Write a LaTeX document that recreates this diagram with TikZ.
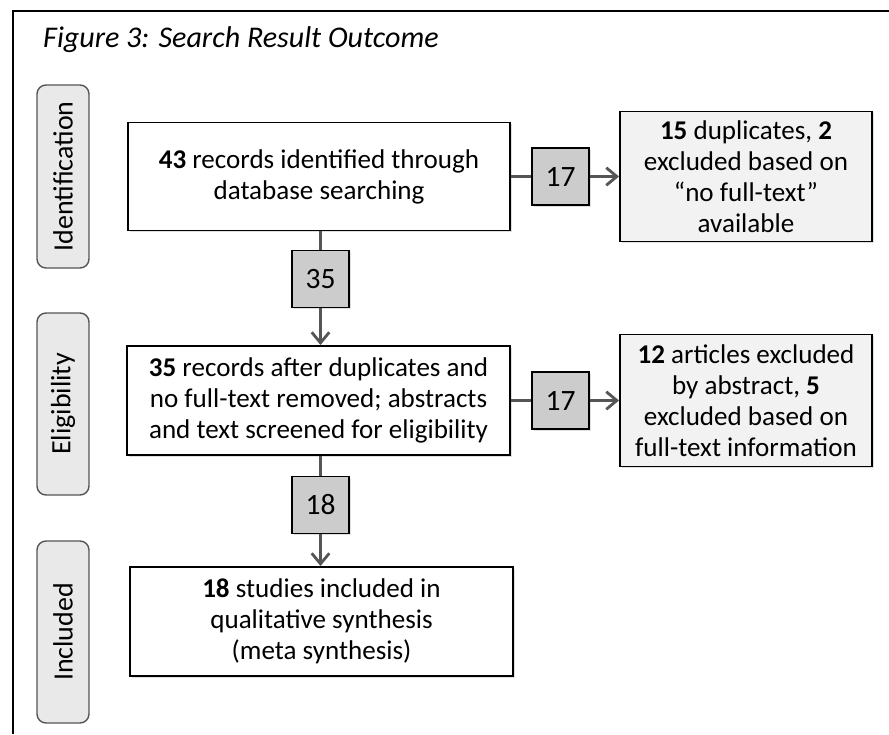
\documentclass[tikz,border=0pt]{standalone}
\usepackage{fontspec}
\setmainfont{Carlito}
\usetikzlibrary{arrows.meta,shadows}
\definecolor{linegray}{RGB}{85,85,85}
\definecolor{numgray}{RGB}{204,204,204}
\definecolor{sidegray}{RGB}{233,233,233}
\definecolor{exclgray}{RGB}{242,242,242}
\begin{document}
\begin{tikzpicture}[
  box/.style={draw=black, line width=1.1pt, fill=white, inner sep=0pt, align=center,
    font=\fontsize{15.4}{17.6}\selectfont, drop shadow={shadow xshift=1pt, shadow yshift=-1pt, opacity=.25}},
  numbox/.style={box, fill=numgray, minimum width=1.14cm, minimum height=1.14cm, font=\fontsize{16.8}{18}\selectfont},
  exclbox/.style={box, fill=exclgray, minimum width=5.04cm},
  phase/.style={draw=linegray, line width=.8pt, fill=sidegray, rounded corners=.18cm, rotate=90,
    minimum width=3.64cm, minimum height=1.04cm, inner sep=0pt, font=\fontsize{15.9}{18}\selectfont},
  flow/.style={draw=linegray, line width=1.8pt},
  arr/.style={flow, -{Straight Barb[length=6pt,width=10pt,line width=1.6pt]}}]
\useasboundingbox (0,0) rectangle (17.78,14.68);
\draw[line width=1.1pt] (17.78,14.46)--(0.26,14.46)--(0.26,0);
\node[anchor=base west, font=\fontsize{17.1}{20}\selectfont\itshape] (title) at (0.74,13.72) {Figure 3: Search Result Outcome};
% phases
\node[phase, minimum width=3.66cm] (ident) at (1.26,11.15) {Identification};
\node[phase] (elig) at (1.26,6.60) {Eligibility};
\node[phase] (incl) at (1.26,2.04) {Included};
% main boxes
\node[box, minimum width=7.64cm, minimum height=2.16cm] (rec) at (6.38,11.15) {\textbf{43} records identified through\\database searching};
\node[box, minimum width=7.66cm, minimum height=2.18cm] (screen) at (6.37,6.67) {\textbf{35} records after duplicates and\\no full-text removed; abstracts\\and text screened for eligibility};
\node[box, minimum width=7.66cm, minimum height=2.18cm] (synth) at (6.43,2.25) {\textbf{18} studies included in\\qualitative synthesis\\(meta synthesis)};
% counts
\node[numbox] (cnta) at (11.21,11.15) {17};
\node[numbox] (cntb) at (11.21,6.67) {17};
\node[numbox] (cntc) at (6.41,9.10) {35};
\node[numbox] (cntd) at (6.41,4.58) {18};
% excluded
\node[exclbox, minimum height=2.6cm] (dup) at (14.92,11.15) {\textbf{15} duplicates, \textbf{2}\\excluded based on\\“no full-text”\\available};
\node[exclbox, minimum height=2.64cm] (abs) at (14.92,6.67) {\textbf{12} articles excluded\\by abstract, \textbf{5}\\excluded based on\\full-text information};
% connectors
\draw[flow] (rec.east)--(cnta.west);
\draw[arr] (cnta.east)--(dup.west);
\draw[flow] (screen.east)--(cntb.west);
\draw[arr] (cntb.east)--(abs.west);
\draw[flow] (cntc|-rec.south)--(cntc.north);
\draw[arr] (cntc.south)--(cntc|-screen.north);
\draw[flow] (cntd|-screen.south)--(cntd.north);
\draw[arr] (cntd.south)--(cntd|-synth.north);
\end{tikzpicture}
\end{document}
